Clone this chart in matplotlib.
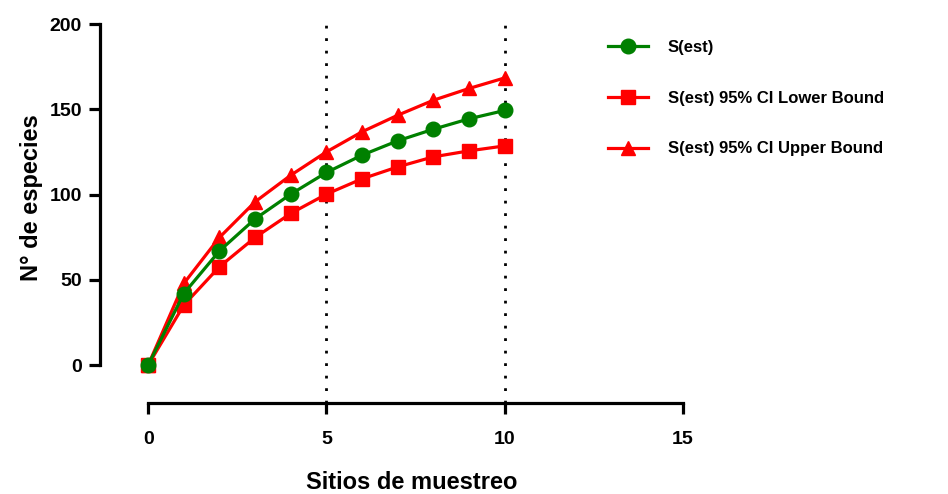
import matplotlib
matplotlib.use("Agg")
import matplotlib.pyplot as plt

sites = [0, 1, 2, 3, 4, 5, 6, 7, 8, 9, 10]
s_est = [0, 42, 67, 85.8, 100.3, 113, 123.2, 131.6, 138.4, 144.5, 149.4]
s_lower = [0, 35.2, 57.7, 74.9, 89, 100.3, 109.3, 116.3, 122.2, 125.7, 128.6]
s_upper = [0, 47.9, 74.9, 95.8, 111.4, 125.1, 136.9, 146.6, 155.4, 162.3, 168.5]
ref_lines = [5, 10]

x_ticks = [0, 5, 10, 15]
y_ticks = [0, 50, 100, 150, 200]

plt.rcParams["font.family"] = ["Liberation Sans", "DejaVu Sans"]
plt.rcParams["font.weight"] = "bold"

fig = plt.figure(figsize=(9.48, 4.94), dpi=100)
ax = fig.add_axes([0.1055, 0.184, 0.615, 0.767])

ax.plot(sites, s_upper, color="#ff0000", lw=2.3, marker="^", ms=10.5, label="S(est) 95% CI Upper Bound", zorder=3)
ax.plot(sites, s_lower, color="#ff0000", lw=2.3, marker="s", ms=10, label="S(est) 95% CI Lower Bound", zorder=3)
ax.plot(sites, s_est, color="#008000", lw=2.3, marker="o", ms=10.5, label="S(est)", zorder=4)

for xv in ref_lines:
    ax.axvline(xv, ymin=0, ymax=1.005, color="black", lw=2, ls=(0, (1, 3.5)), zorder=1, clip_on=False)

ax.set_xlim(-1.35, 15)
ax.set_ylim(-22.3, 200)
ax.set_xticks(x_ticks)
ax.set_yticks(y_ticks)

for side in ["top", "right"]:
    ax.spines[side].set_visible(False)
ax.spines["left"].set_bounds(0, 200)
ax.spines["bottom"].set_bounds(0, 15)
ax.spines["left"].set_linewidth(2.3)
ax.spines["bottom"].set_linewidth(2.3)
ax.tick_params(width=2.3, length=8, labelsize=14)
ax.tick_params(axis="x", pad=12)
ax.tick_params(axis="y", pad=5)

for lab in ax.get_xticklabels() + ax.get_yticklabels():
    lab.set_fontweight("bold")

ax.set_xlabel("Sitios de muestreo", fontsize=17, fontweight="bold")
ax.set_ylabel("N° de especies", fontsize=17, fontweight="bold")
ax.xaxis.set_label_coords(0.535, -0.18)
ax.yaxis.set_label_coords(-0.098, 0.542)

handles, labels = ax.get_legend_handles_labels()
order = [2, 1, 0]
fig.legend([handles[i] for i in order], [labels[i] for i in order],
           loc="upper left", bbox_to_anchor=(0.625, 0.95), frameon=False,
           prop={"weight": "bold", "size": 12}, handlelength=2.4,
           labelspacing=2.15, handletextpad=1.2)

fig.savefig("out.png", dpi=100)
